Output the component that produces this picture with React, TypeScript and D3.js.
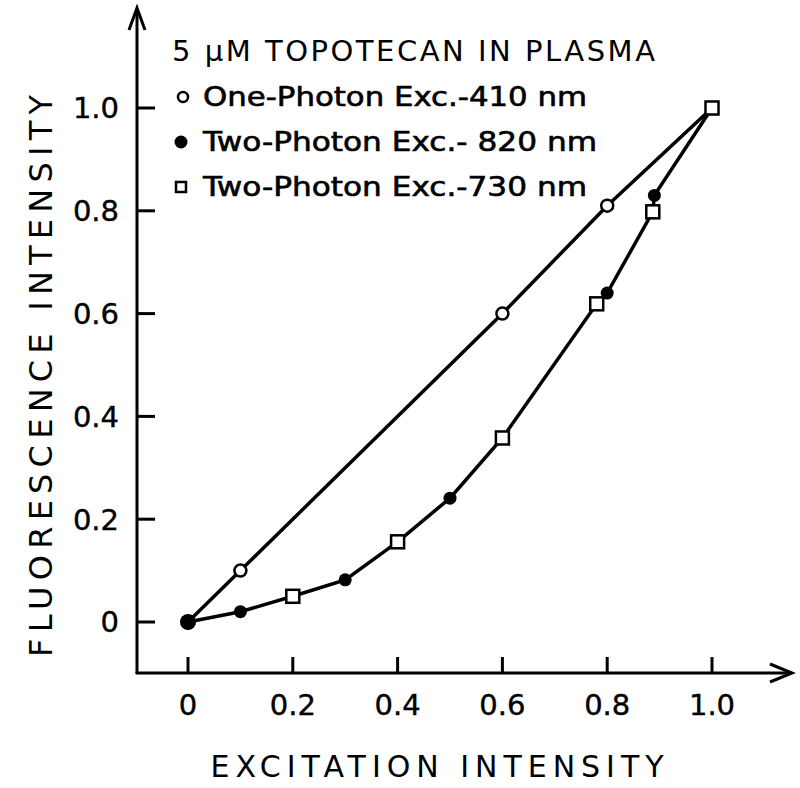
import React from "react";
import * as d3 from "d3";

const onePhotonX = [0, 0.1, 0.6, 0.8, 1.0];
const onePhotonY = [0, 0.1, 0.6, 0.81, 1.0];
const twoPhoton820X = [0, 0.1, 0.3, 0.5, 0.8, 0.89];
const twoPhoton820Y = [0, 0.02, 0.082, 0.241, 0.64, 0.83];
const twoPhoton730X = [0.2, 0.4, 0.6, 0.78, 0.887, 1.0];
const twoPhoton730Y = [0.05, 0.156, 0.358, 0.619, 0.798, 1.0];
const tickValues = [0, 0.2, 0.4, 0.6, 0.8, 1.0];
const tickLabels = ["0", "0.2", "0.4", "0.6", "0.8", "1.0"];
const legendTitle = "5 \u03BCM TOPOTECAN IN PLASMA";
const legendLabels = ["One-Photon Exc.-410 nm", "Two-Photon Exc.- 820 nm", "Two-Photon Exc.-730 nm"];
const xTitle = "EXCITATION INTENSITY";
const yTitle = "FLUORESCENCE INTENSITY";

const FONT = "'DejaVu Sans', 'Liberation Sans', sans-serif";

export default function App() {
  const x = d3.scaleLinear().domain([0, 1]).range([188, 712]);
  const y = d3.scaleLinear().domain([0, 1]).range([622, 108]);
  const axisX0 = 137;
  const axisY0 = 673;

  const one = onePhotonX.map((v, i) => [v, onePhotonY[i]] as [number, number]);
  const f820 = twoPhoton820X.map((v, i) => [v, twoPhoton820Y[i]] as [number, number]);
  const s730 = twoPhoton730X.map((v, i) => [v, twoPhoton730Y[i]] as [number, number]);
  const two = [...f820, ...s730].sort((a, b) => a[0] - b[0]);

  const line = d3
    .line<[number, number]>()
    .x((d) => x(d[0]))
    .y((d) => y(d[1]));

  return (
    <svg
      width={800}
      height={788}
      style={{ position: "absolute", left: 0, top: 0, background: "#fff" }}
      fontFamily={FONT}
    >
      <rect width={800} height={788} fill="#fff" />
      {/* axes */}
      <line x1={axisX0} y1={10} x2={axisX0} y2={axisY0} stroke="#000" strokeWidth={3} />
      <line x1={axisX0 - 1.5} y1={axisY0} x2={790} y2={axisY0} stroke="#000" strokeWidth={3} />
      <path d={`M${axisX0 - 8},30 L${axisX0},8 L${axisX0 + 8},30`} fill="none" stroke="#000" strokeWidth={3} />
      <path d={`M770,${axisY0 - 9} L792,${axisY0} L770,${axisY0 + 9}`} fill="none" stroke="#000" strokeWidth={3} />
      {tickValues.map((t, i) => (
        <g key={"y" + i}>
          <line x1={axisX0} x2={axisX0 + 18} y1={y(t)} y2={y(t)} stroke="#000" strokeWidth={3} />
          <text x={119} y={y(t)} dy="0.36em" textAnchor="end" fontSize={29} stroke="#000" strokeWidth={0.4}>
            {tickLabels[i]}
          </text>
        </g>
      ))}
      {tickValues.map((t, i) => (
        <g key={"x" + i}>
          <line x1={x(t)} x2={x(t)} y1={axisY0} y2={axisY0 - 16} stroke="#000" strokeWidth={3} />
          <text x={x(t)} y={705} dy="0.36em" textAnchor="middle" fontSize={29} stroke="#000" strokeWidth={0.4}>
            {tickLabels[i]}
          </text>
        </g>
      ))}
      <text x={437} y={766} dy="0.36em" textAnchor="middle" fontSize={30} textLength={453} lengthAdjust="spacing">
        {xTitle}
      </text>
      <text
        transform="translate(40,376) rotate(-90)"
        dy="0.36em"
        textAnchor="middle"
        fontSize={32}
        textLength={562}
        lengthAdjust="spacing"
      >
        {yTitle}
      </text>

      {/* lines */}
      <path d={line(one) || ""} fill="none" stroke="#000" strokeWidth={3.5} />
      <path d={line(two) || ""} fill="none" stroke="#000" strokeWidth={3.5} />

      {/* markers */}
      {one.map((d, i) => (
        <circle key={"o" + i} cx={x(d[0])} cy={y(d[1])} r={6} fill="#fff" stroke="#000" strokeWidth={2.5} />
      ))}
      {f820.map((d, i) => (
        <circle key={"f" + i} cx={x(d[0])} cy={y(d[1])} r={i === 0 ? 8 : 6.5} fill="#000" />
      ))}
      {s730.map((d, i) => (
        <rect key={"s" + i} x={x(d[0]) - 6.5} y={y(d[1]) - 6.5} width={13} height={13} fill="#fff" stroke="#000" strokeWidth={2.5} />
      ))}

      {/* legend */}
      <text x={172} y={51} dy="0.36em" fontSize={29} textLength={483} lengthAdjust="spacing">
        {legendTitle}
      </text>
      <circle cx={183} cy={97} r={5} fill="#fff" stroke="#000" strokeWidth={2.5} />
      <text x={203} y={97} dy="0.36em" fontSize={26} stroke="#000" strokeWidth={0.6} textLength={384} lengthAdjust="spacingAndGlyphs">
        {legendLabels[0]}
      </text>
      <circle cx={181} cy={142} r={6.5} fill="#000" />
      <text x={203} y={142} dy="0.36em" fontSize={26} stroke="#000" strokeWidth={0.6} textLength={394} lengthAdjust="spacingAndGlyphs">
        {legendLabels[1]}
      </text>
      <rect x={176} y={182} width={10} height={10} fill="#fff" stroke="#000" strokeWidth={2.5} />
      <text x={203} y={187} dy="0.36em" fontSize={26} stroke="#000" strokeWidth={0.6} textLength={384} lengthAdjust="spacingAndGlyphs">
        {legendLabels[2]}
      </text>
    </svg>
  );
}
